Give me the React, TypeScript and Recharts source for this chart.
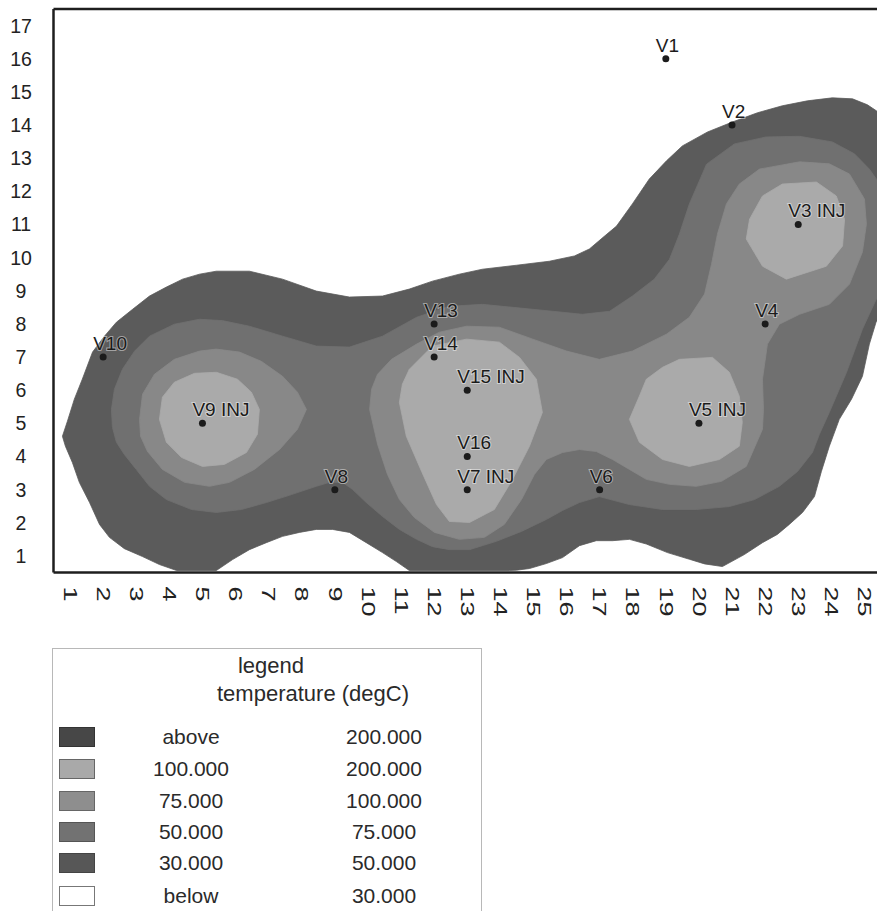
import { ComposedChart, ReferenceLine, Scatter, XAxis, YAxis } from "recharts";

const FONT = '"Liberation Sans", Arial, Helvetica, sans-serif';

const xTicks = [1, 2, 3, 4, 5, 6, 7, 8, 9, 10, 11, 12, 13, 14, 15, 16, 17, 18, 19, 20, 21, 22, 23, 24, 25];
const yTicks = [1, 2, 3, 4, 5, 6, 7, 8, 9, 10, 11, 12, 13, 14, 15, 16, 17];

// contour outlines in grid units (x, y), traced clockwise
const edge30: [number, number][] = [
  [0.77, 4.61], [0.92, 5.06], [1.13, 5.73], [1.37, 6.33], [1.68, 7.15], [2.04, 7.63], [2.4, 8.05], [2.89, 8.44],
  [3.4, 8.84], [3.91, 9.11], [4.4, 9.35], [4.91, 9.5], [5.42, 9.59], [6.42, 9.59], [7.42, 9.35], [8.44, 8.99],
  [9.44, 8.81], [10.44, 8.84], [11.25, 9.05], [11.95, 9.29], [12.76, 9.5], [13.46, 9.65], [14.49, 9.77],
  [15.48, 9.89], [16.24, 10.05], [16.69, 10.26], [17.15, 10.65], [17.51, 10.95], [17.99, 11.62], [18.5, 12.37],
  [19.02, 12.92], [19.5, 13.37], [20.26, 13.79], [21.01, 14.09], [21.77, 14.37], [22.52, 14.58], [23.28, 14.73],
  [24.03, 14.82], [24.64, 14.79], [25.09, 14.61], [25.36, 14.43], [25.8, 14.1], [25.8, 8.0], [25.36, 8.08],
  [25.15, 7.39], [24.94, 6.42], [24.61, 5.73], [24.24, 5.12], [23.94, 4.31], [23.7, 3.55], [23.49, 2.79],
  [23.13, 2.31], [22.73, 1.95], [22.37, 1.65], [21.92, 1.4], [21.37, 1.04], [20.71, 0.68], [20.17, 0.76],
  [19.71, 0.9], [19.05, 1.1], [18.41, 1.36], [17.9, 1.5], [17.39, 1.46], [16.9, 1.46], [16.39, 1.31],
  [15.88, 0.95], [15.39, 0.77], [14.88, 0.62], [14.49, 0.57], [14.27, 0.56], [11.25, 0.56], [10.86, 0.83],
  [10.44, 1.1], [9.95, 1.4], [9.44, 1.71], [8.93, 1.8], [8.44, 1.8], [7.93, 1.71], [7.42, 1.59], [6.93, 1.4],
  [6.42, 1.19], [5.91, 0.89], [5.42, 0.56], [4.22, 0.56], [3.7, 0.74], [3.19, 0.98], [2.64, 1.22], [2.19, 1.56],
  [1.89, 1.95], [1.59, 2.61], [1.28, 3.22], [1.07, 3.82], [0.86, 4.31]
];

const edge50: [number, number][] = [
  [2.25, 5.42], [2.34, 6.03], [2.58, 6.63], [2.95, 7.18], [3.4, 7.63], [4.15, 7.99], [4.91, 8.14], [5.6, 8.1],
  [6.42, 7.93], [7.42, 7.63], [8.44, 7.33], [9.44, 7.3], [10.44, 7.63], [11.47, 8.2], [12.46, 8.53], [13.46, 8.59],
  [14.98, 8.44], [16.48, 8.29], [17.3, 8.38], [17.99, 8.84], [18.65, 9.35], [19.11, 9.95], [19.41, 10.71],
  [19.71, 11.62], [20.23, 12.82], [21.07, 13.43], [22.03, 13.64], [23.04, 13.66], [24.03, 13.49], [24.7, 13.13],
  [25.15, 12.67], [25.36, 12.37], [25.8, 12.1], [25.8, 8.6], [25.36, 8.75], [24.94, 7.84], [24.46, 6.54],
  [23.94, 5.33], [23.64, 4.67], [23.43, 4.12], [22.98, 3.55], [22.43, 3.1], [21.68, 2.7], [20.92, 2.49],
  [19.92, 2.4], [18.9, 2.4], [17.9, 2.55], [16.99, 2.79], [16.39, 2.61], [15.88, 2.37], [15.39, 2.1],
  [14.64, 1.74], [13.88, 1.44], [13.07, 1.19], [12.46, 1.19], [11.95, 1.28], [11.47, 1.5], [10.95, 1.8],
  [10.44, 2.19], [9.95, 2.61], [9.53, 3.01], [9.23, 3.22], [8.84, 3.22], [8.44, 3.1], [7.69, 2.85], [6.93, 2.61],
  [6.18, 2.4], [5.42, 2.31], [4.67, 2.4], [3.91, 2.7], [3.4, 3.1], [3.0, 3.61], [2.64, 4.06], [2.4, 4.43], [2.28, 4.88]
];

const edge75West: [number, number][] = [
  [3.1, 5.12], [3.19, 5.88], [3.55, 6.48], [4.15, 6.93], [4.91, 7.18], [5.42, 7.24], [6.12, 7.15], [6.78, 6.87],
  [7.42, 6.42], [7.87, 5.94], [8.14, 5.42], [7.87, 4.82], [7.33, 4.21], [6.57, 3.61], [5.82, 3.22], [5.21, 3.1],
  [4.46, 3.22], [3.79, 3.61], [3.34, 4.15], [3.13, 4.61]
];

const edge75Main: [number, number][] = [
  [10.05, 5.42], [10.11, 6.03], [10.29, 6.48], [10.71, 6.93], [11.47, 7.39], [12.16, 7.75], [12.98, 7.93],
  [13.97, 7.9], [14.98, 7.54], [16.0, 7.18], [16.99, 6.93], [17.99, 7.18], [19.02, 7.69], [19.71, 8.2],
  [20.17, 8.9], [20.38, 9.8], [20.56, 10.71], [20.83, 11.62], [21.22, 12.22], [21.83, 12.67], [23.04, 12.89],
  [23.94, 12.83], [24.55, 12.52], [25.0, 11.77], [25.06, 11.01], [24.94, 10.17], [24.55, 9.2], [23.94, 8.59],
  [23.04, 8.29], [22.43, 7.99], [22.07, 7.39], [21.92, 6.33], [21.95, 5.42], [21.92, 4.82], [21.43, 3.7],
  [20.68, 3.25], [19.92, 3.1], [19.11, 3.16], [18.41, 3.31], [17.9, 3.61], [17.39, 3.91], [16.9, 4.15],
  [16.39, 4.21], [15.88, 4.12], [15.39, 3.91], [15.03, 3.46], [14.64, 2.7], [14.12, 1.95], [13.52, 1.56],
  [12.76, 1.5], [12.01, 1.71], [11.4, 2.16], [10.95, 2.7], [10.59, 3.46], [10.29, 4.37]
];

const edge100West: [number, number][] = [
  [3.7, 5.12], [3.79, 5.79], [4.15, 6.24], [4.76, 6.51], [5.42, 6.54], [6.06, 6.33], [6.48, 5.94], [6.72, 5.42],
  [6.66, 4.67], [6.33, 4.12], [5.66, 3.76], [5.0, 3.7], [4.37, 3.97], [3.91, 4.43]
];

const edge100Mid: [number, number][] = [
  [10.95, 5.63], [11.04, 6.18], [11.25, 6.63], [11.95, 7.33], [12.98, 7.54], [13.97, 7.45], [14.58, 6.99],
  [15.09, 6.33], [15.27, 5.33], [14.88, 4.31], [14.37, 3.31], [13.82, 2.4], [13.07, 2.01], [12.46, 2.04],
  [12.07, 2.55], [11.62, 3.55], [11.16, 4.61]
];

const edge100East: [number, number][] = [
  [17.9, 5.12], [18.2, 5.82], [18.41, 6.33], [18.9, 6.69], [19.41, 6.93], [20.41, 6.99], [20.92, 6.54],
  [21.22, 5.82], [21.31, 5.03], [21.22, 4.31], [20.62, 3.91], [19.71, 3.7], [18.9, 3.91], [18.2, 4.43]
];

const edge100North: [number, number][] = [
  [21.53, 11.16], [21.92, 11.86], [22.52, 12.22], [23.55, 12.28], [24.15, 11.86], [24.4, 11.16], [24.34, 10.35],
  [23.85, 9.74], [22.64, 9.35], [21.92, 9.74], [21.43, 10.56]
];

const wellNames = ["V1", "V2", "V3 INJ", "V4", "V5 INJ", "V6", "V7 INJ", "V8", "V9 INJ", "V10", "V13", "V14", "V15 INJ", "V16"];
const wellX = [19, 21, 23, 22, 20, 17, 13, 9, 5, 2, 12, 12, 13, 13];
const wellY = [16, 14, 11, 8, 5, 3, 3, 3, 5, 7, 8, 7, 6, 4];

const legendFrom = ["above", "100.000", "75.000", "50.000", "30.000", "below"];
const legendTo = ["200.000", "200.000", "100.000", "75.000", "50.000", "30.000"];

// greys of the scan
const SHADE = { c30: "#5b5b5b", c50: "#707070", c75: "#888888", c100: "#aaaaaa" };
const SWATCH = [
  { fill: "#474747", border: "#333" },
  { fill: "#a9a9a9", border: "#666" },
  { fill: "#8e8e8e", border: "#666" },
  { fill: "#727272", border: "#555" },
  { fill: "#575757", border: "#444" },
  { fill: "#ffffff", border: "#777" }
];

const toPts = (edge: [number, number][]) => edge.map(([x, y]) => ({ x, y }));

const bands = [
  { id: "b30", pts: toPts(edge30), color: SHADE.c30 },
  { id: "b50", pts: toPts(edge50), color: SHADE.c50 },
  { id: "b75w", pts: toPts(edge75West), color: SHADE.c75 },
  { id: "b75m", pts: toPts(edge75Main), color: SHADE.c75 },
  { id: "b100w", pts: toPts(edge100West), color: SHADE.c100 },
  { id: "b100m", pts: toPts(edge100Mid), color: SHADE.c100 },
  { id: "b100e", pts: toPts(edge100East), color: SHADE.c100 },
  { id: "b100n", pts: toPts(edge100North), color: SHADE.c100 }
];

const wells = wellNames.map((name, i) => ({ name, x: wellX[i], y: wellY[i] }));

function XTick(props: any) {
  const { x, y, payload } = props;
  return (
    <text
      transform={`translate(${x},${y + 6}) rotate(90) scale(1.5,1)`}
      fontSize={18}
      fontFamily={FONT}
      fill="#222"
      dominantBaseline="central"
    >
      {payload.value}
    </text>
  );
}

function YTick(props: any) {
  const { y, payload } = props;
  return (
    <text x={21} y={y} textAnchor="middle" dominantBaseline="central" fontSize={19.5} fontFamily={FONT} fill="#222">
      {payload.value}
    </text>
  );
}

function WellMark(props: any) {
  const { cx, cy, payload } = props;
  return (
    <g>
      <circle cx={cx} cy={cy} r={3.5} fill="#1b1b1b" />
      <text
        x={cx - 10}
        y={cy - 7}
        fontSize={19}
        fontFamily={FONT}
        fill="#1b1b1b"
        stroke="#ffffff"
        strokeOpacity={0.45}
        strokeWidth={2}
        paintOrder="stroke"
      >
        {payload.name}
      </text>
    </g>
  );
}

const hidden = () => <g />;

function LegendBox() {
  const rowY = [88, 120, 152, 183, 214, 247];
  return (
    <div
      style={{
        position: "absolute",
        left: 52,
        top: 648,
        width: 430,
        height: 275,
        border: "1.5px solid #b8b8b8",
        fontFamily: FONT,
        color: "#2a2a2a",
        boxSizing: "border-box"
      }}
    >
      <div style={{ position: "absolute", left: 118, width: 200, top: 4, textAlign: "center", fontSize: 22, lineHeight: "26px" }}>
        legend
      </div>
      <div style={{ position: "absolute", left: 110, width: 300, top: 32, textAlign: "center", fontSize: 22, lineHeight: "26px" }}>
        temperature (degC)
      </div>
      {legendFrom.map((from, i) => (
        <div key={from}>
          <div
            style={{
              position: "absolute",
              left: 6,
              top: rowY[i] - 10,
              width: 36,
              height: 20,
              background: SWATCH[i].fill,
              border: `1.5px solid ${SWATCH[i].border}`,
              boxSizing: "border-box"
            }}
          />
          <div style={{ position: "absolute", left: 78, width: 120, top: rowY[i] - 13, textAlign: "center", fontSize: 21, lineHeight: "26px" }}>
            {from}
          </div>
          <div style={{ position: "absolute", left: 271, width: 120, top: rowY[i] - 13, textAlign: "center", fontSize: 21, lineHeight: "26px" }}>
            {legendTo[i]}
          </div>
        </div>
      ))}
    </div>
  );
}

export default function App() {
  return (
    <div style={{ position: "absolute", left: 0, top: 0, width: 877, height: 911, overflow: "hidden", background: "#fff" }}>
      <ComposedChart width={877} height={640} margin={{ top: 9, right: 0, bottom: 0, left: 0 }}>
        <XAxis
          type="number"
          dataKey="x"
          domain={[0.5, 25.38]}
          ticks={xTicks}
          interval={0}
          allowDataOverflow
          tickLine={false}
          axisLine={{ stroke: "#1e1e1e", strokeWidth: 2.5 }}
          height={67.5}
          tick={<XTick />}
        />
        <YAxis
          type="number"
          dataKey="y"
          domain={[0.5, 17.5]}
          ticks={yTicks}
          interval={0}
          allowDataOverflow
          tickLine={false}
          axisLine={{ stroke: "#1e1e1e", strokeWidth: 2.5 }}
          width={53.5}
          tick={<YTick />}
        />
        {bands.map((b) => (
          <Scatter
            key={b.id}
            data={b.pts}
            line={{ fill: b.color, stroke: b.color, strokeWidth: 0.8 }}
            lineType="joint"
            lineJointType="linearClosed"
            shape={hidden}
            isAnimationActive={false}
            legendType="none"
          />
        ))}
        <Scatter data={wells} shape={<WellMark />} isAnimationActive={false} legendType="none" />
        <ReferenceLine y={17.5} stroke="#1e1e1e" strokeWidth={2.5} />
      </ComposedChart>
      <LegendBox />
    </div>
  );
}
